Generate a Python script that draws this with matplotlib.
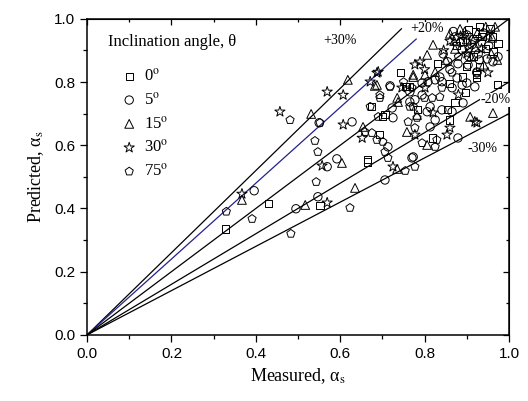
import matplotlib

matplotlib.use("Agg")
import matplotlib.pyplot as plt
from matplotlib.ticker import MultipleLocator, FormatStrFormatter


# measured / predicted pairs, one list per inclination angle
sq_x = [0.329, 0.431, 0.552, 0.664, 0.706, 0.694, 0.758, 0.742, 0.754, 0.784, 0.872, 0.896,
        0.900, 0.889, 0.924, 0.860, 0.924, 0.974, 0.818, 0.931, 0.974, 0.962, 0.936, 0.920,
        0.955, 0.890, 0.830, 0.860, 0.675, 0.701, 0.765, 0.664, 0.855, 0.972, 0.930,
        0.945, 0.905, 0.875, 0.960, 0.915]
sq_y = [0.335, 0.415, 0.408, 0.547, 0.696, 0.633, 0.785, 0.829, 0.785, 0.712, 0.734, 0.766,
        0.848, 0.816, 0.823, 0.794, 0.813, 0.921, 0.623, 0.975, 0.921, 0.896, 0.943, 0.960,
        0.970, 0.930, 0.860, 0.680, 0.722, 0.690, 0.785, 0.554, 0.712, 0.791, 0.850,
        0.905, 0.965, 0.915, 0.945, 0.880]

ci_x = [0.396, 0.495, 0.547, 0.706, 0.550, 0.592, 0.569, 0.628, 0.723, 0.725, 0.713, 0.765,
        0.794, 0.765, 0.806, 0.879, 0.770, 0.794, 0.808, 0.836, 0.865, 0.877, 0.900, 0.924,
        0.777, 0.813, 0.891, 0.841, 0.865, 0.825, 0.813, 0.872, 0.900, 0.912, 0.889, 0.927,
        0.844, 0.855, 0.879, 0.903, 0.948, 0.962, 0.841, 0.825, 0.889, 0.919, 0.718, 0.773,
        0.974, 0.924, 0.940, 0.915, 0.860, 0.885, 0.930, 0.952, 0.905, 0.868]
ci_y = [0.456, 0.399, 0.437, 0.490, 0.671, 0.557, 0.532, 0.674, 0.718, 0.687, 0.595, 0.769,
        0.759, 0.737, 0.706, 0.623, 0.560, 0.797, 0.801, 0.816, 0.782, 0.813, 0.797, 0.829,
        0.744, 0.722, 0.734, 0.712, 0.706, 0.680, 0.658, 0.943, 0.949, 0.918, 0.902, 0.889,
        0.889, 0.864, 0.858, 0.854, 0.873, 0.864, 0.801, 0.807, 0.791, 0.785, 0.788, 0.563,
        0.880, 0.832, 0.955, 0.935, 0.840, 0.925, 0.870, 0.915, 0.880, 0.960]

tr_x = [0.367, 0.517, 0.635, 0.531, 0.618, 0.604, 0.682, 0.735, 0.782, 0.654, 0.758, 0.806,
        0.908, 0.962, 0.735, 0.773, 0.687, 0.737, 0.884, 0.945, 0.967, 0.860, 0.820, 0.806,
        0.872, 0.972, 0.773, 0.801, 0.825, 0.920, 0.950, 0.960, 0.900, 0.850, 0.940, 0.958,
        0.895, 0.925, 0.870, 0.910]
tr_y = [0.427, 0.411, 0.465, 0.699, 0.807, 0.544, 0.788, 0.750, 0.696, 0.658, 0.642, 0.601,
        0.690, 0.702, 0.525, 0.823, 0.791, 0.737, 0.968, 0.975, 0.975, 0.953, 0.918, 0.886,
        0.905, 0.870, 0.816, 0.823, 0.832, 0.910, 0.950, 0.940, 0.935, 0.870, 0.855, 0.890,
        0.960, 0.955, 0.930, 0.880]

st_x = [0.367, 0.569, 0.569, 0.457, 0.557, 0.607, 0.607, 0.690, 0.671, 0.652, 0.746, 0.777,
        0.853, 0.919, 0.725, 0.687, 0.789, 0.777, 0.860, 0.924, 0.820, 0.801, 0.900, 0.935,
        0.860, 0.800, 0.880, 0.950, 0.885, 0.915, 0.845]
st_y = [0.446, 0.418, 0.769, 0.706, 0.535, 0.759, 0.665, 0.832, 0.801, 0.623, 0.782, 0.633,
        0.633, 0.674, 0.532, 0.829, 0.864, 0.855, 0.655, 0.671, 0.703, 0.782, 0.890, 0.905,
        0.930, 0.840, 0.760, 0.830, 0.945, 0.930, 0.900]

pe_x = [0.330, 0.391, 0.483, 0.543, 0.481, 0.540, 0.547, 0.552, 0.694, 0.671, 0.690, 0.659,
        0.675, 0.687, 0.701, 0.706, 0.713, 0.773, 0.825, 0.754, 0.777, 0.623, 0.718, 0.770,
        0.694, 0.765, 0.818, 0.836, 0.841, 0.761, 0.782, 0.777, 0.829, 0.794, 0.750, 0.800,
        0.880, 0.905, 0.935, 0.865]
pe_y = [0.390, 0.367, 0.320, 0.484, 0.680, 0.614, 0.579, 0.671, 0.759, 0.722, 0.690, 0.642,
        0.639, 0.617, 0.611, 0.579, 0.560, 0.722, 0.595, 0.519, 0.532, 0.402, 0.785, 0.782,
        0.750, 0.722, 0.750, 0.753, 0.782, 0.674, 0.687, 0.655, 0.617, 0.607, 0.800, 0.750,
        0.880, 0.905, 0.925, 0.830]

series = [
    ("0$^\\mathrm{o}$", sq_x, sq_y, "s", 26),
    ("5$^\\mathrm{o}$", ci_x, ci_y, "o", 36),
    ("15$^\\mathrm{o}$", tr_x, tr_y, "^", 40),
    ("30$^\\mathrm{o}$", st_x, st_y, "*", 60),
    ("75$^\\mathrm{o}$", pe_x, pe_y, "p", 38),
]

# error bands: slope, end of line on x
band_slope = [1.3, 1.2, 1.0, 0.8, 0.7]
band_xend = [0.745, 0.78, 1.0, 1.0, 1.0]
band_color = ["black", "#22228a", "black", "black", "black"]

band_text = ["+30%", "+20%", "-20%", "-30%"]
band_text_pos = [(0.60, 0.933), (0.806, 0.968), (0.968, 0.744), (0.938, 0.589)]

plt.rcParams["font.family"] = ["Liberation Serif", "DejaVu Serif"]
plt.rcParams["mathtext.fontset"] = "stix"

fig = plt.figure(figsize=(5.28, 4.01), dpi=100)
ax = fig.add_axes([0.165, 0.165, 0.799, 0.788])

for k, xe, c in zip(band_slope, band_xend, band_color):
    ax.plot([0, xe], [0, k * xe], color=c, lw=0.9, zorder=1)

for label, xs, ys, m, s in series:
    ax.scatter(xs, ys, marker=m, s=s, facecolors="none", edgecolors="black",
               linewidths=0.7, label=label, zorder=2)

for t, (tx, ty) in zip(band_text, band_text_pos):
    ax.text(tx, ty, t, fontsize=10, ha="center", va="center", zorder=3,
            bbox=dict(facecolor="white", edgecolor="none", pad=0.5))

ax.text(0.05, 0.927, "Inclination angle, \u03b8", transform=ax.transAxes,
        fontsize=12, ha="left", va="center")
ax.legend(loc="upper left", bbox_to_anchor=(0.08, 0.845), frameon=False, fontsize=12,
          handlelength=1.0, handletextpad=0.4, labelspacing=0.42, borderaxespad=0,
          borderpad=0, scatterpoints=1)

ax.set_xlim(0, 1)
ax.set_ylim(0, 1)
ax.xaxis.set_major_locator(MultipleLocator(0.2))
ax.xaxis.set_minor_locator(MultipleLocator(0.1))
ax.yaxis.set_major_locator(MultipleLocator(0.2))
ax.yaxis.set_minor_locator(MultipleLocator(0.1))
ax.xaxis.set_major_formatter(FormatStrFormatter("%.1f"))
ax.yaxis.set_major_formatter(FormatStrFormatter("%.1f"))
ax.tick_params(which="both", direction="out", width=0.9)
ax.tick_params(which="major", length=5)
ax.tick_params(which="minor", length=3)
for lab in ax.get_xticklabels() + ax.get_yticklabels():
    lab.set_family(["Liberation Sans", "DejaVu Sans"])
    lab.set_fontsize(11)

# Origin-style inner ticks on top and right
sec_x = ax.secondary_xaxis("top")
sec_y = ax.secondary_yaxis("right")
sec_x.xaxis.set_major_locator(MultipleLocator(0.2))
sec_x.xaxis.set_minor_locator(MultipleLocator(0.1))
sec_y.yaxis.set_major_locator(MultipleLocator(0.2))
sec_y.yaxis.set_minor_locator(MultipleLocator(0.1))
for sec in (sec_x, sec_y):
    sec.tick_params(which="both", direction="in", width=0.9)
    sec.tick_params(which="major", length=4)
    sec.tick_params(which="minor", length=2.5)
sec_x.set_xticklabels([])
sec_y.set_yticklabels([])
for sp in ax.spines.values():
    sp.set_linewidth(1.1)

ax.set_xlabel("Measured, \u03b1$_\\mathrm{s}$", fontsize=13, labelpad=4)
ax.set_ylabel("Predicted, \u03b1$_\\mathrm{s}$", fontsize=13, labelpad=6)

fig.savefig("out.png", dpi=100, facecolor="white")
